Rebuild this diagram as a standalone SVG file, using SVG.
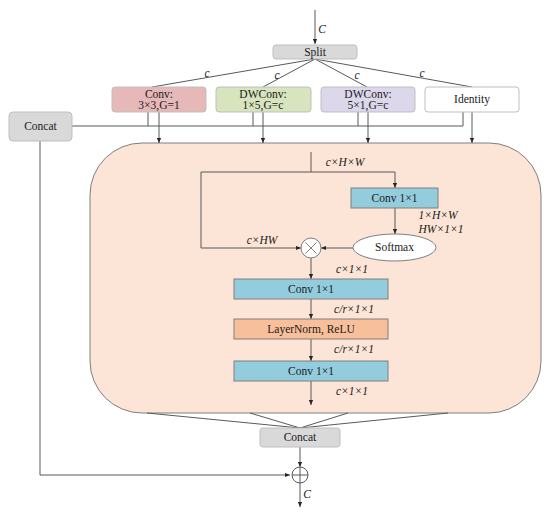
<svg xmlns="http://www.w3.org/2000/svg" width="550" height="513" viewBox="0 0 550 513" font-family="'Liberation Serif', 'DejaVu Serif', serif">
<style>
text{font-family:'Liberation Serif','DejaVu Serif',serif;font-size:11.5px;fill:#1a1a1a;text-anchor:middle}
.it{font-style:italic}
.ln{stroke:#595959;stroke-width:1;fill:none}
.gray{fill:#d9d9d9;stroke:#bfbfbf;stroke-width:1}
.teal{fill:#93cddd;stroke:#7f7f7f;stroke-width:1}
</style>
<defs>
<marker id="ah" viewBox="0 0 6 6" refX="6" refY="3" markerWidth="5" markerHeight="5" orient="auto"><path d="M0,0.5 L6,3 L0,5.5 Z" fill="#262626"/></marker>
</defs>
<g id="bigbox"><rect x="90" y="143" width="451" height="270" rx="52" fill="#fce5d6" stroke="#7f7f7f" stroke-width="1"/></g>
<g id="connectors">
<line class="ln" x1="315" y1="10" x2="315" y2="44" marker-end="url(#ah)"/>
<line class="ln" x1="315" y1="59" x2="152" y2="87"/>
<line class="ln" x1="315" y1="59" x2="263" y2="87"/>
<line class="ln" x1="315" y1="59" x2="367" y2="87"/>
<line class="ln" x1="315" y1="59" x2="472" y2="87"/>
<polyline class="ln" points="72,126 463,126"/>
<line class="ln" x1="148" y1="112" x2="148" y2="126"/>
<line class="ln" x1="253" y1="112" x2="253" y2="126"/>
<line class="ln" x1="358" y1="112" x2="358" y2="126"/>
<line class="ln" x1="463" y1="112" x2="463" y2="126"/>
<line class="ln" x1="159" y1="112" x2="159" y2="143" marker-end="url(#ah)"/>
<line class="ln" x1="263" y1="112" x2="263" y2="143" marker-end="url(#ah)"/>
<line class="ln" x1="368" y1="112" x2="368" y2="143" marker-end="url(#ah)"/>
<line class="ln" x1="472" y1="112" x2="472" y2="143" marker-end="url(#ah)"/>
<polyline class="ln" points="40,141 40,475 290,475" marker-end="url(#ah)"/>
<line class="ln" x1="311" y1="152" x2="311" y2="172"/>
<polyline class="ln" points="201,172 395,172 395,188" marker-end="url(#ah)"/>
<polyline class="ln" points="201,172 201,248 301,248" marker-end="url(#ah)"/>
<line class="ln" x1="395" y1="208" x2="395" y2="234" marker-end="url(#ah)"/>
<line class="ln" x1="353" y1="248" x2="321" y2="248" marker-end="url(#ah)"/>
<line class="ln" x1="311" y1="258" x2="311" y2="279" marker-end="url(#ah)"/>
<line class="ln" x1="311" y1="299" x2="311" y2="319" marker-end="url(#ah)"/>
<line class="ln" x1="311" y1="339" x2="311" y2="361" marker-end="url(#ah)"/>
<line class="ln" x1="311" y1="381" x2="311" y2="405" marker-end="url(#ah)"/>
<line class="ln" x1="147" y1="413" x2="300" y2="428"/>
<line class="ln" x1="250" y1="413" x2="300" y2="428"/>
<line class="ln" x1="348" y1="413" x2="300" y2="428"/>
<line class="ln" x1="448" y1="413" x2="300" y2="428"/>
<line class="ln" x1="300" y1="447" x2="300" y2="467" marker-end="url(#ah)"/>
<line class="ln" x1="300" y1="483" x2="300" y2="507" marker-end="url(#ah)"/>
</g>
<g id="labels">
<text class="it" x="322" y="33" font-size="12">C</text>
<text class="it" x="207" y="77">c</text>
<text class="it" x="277" y="79">c</text>
<text class="it" x="357" y="79">c</text>
<text class="it" x="422" y="77">c</text>
<text class="it" x="345" y="166" font-size="10.5">c×H×W</text>
<text class="it" x="262" y="244" font-size="10.5">c×HW</text>
<text class="it" x="438" y="219" font-size="10.5">1×H×W</text>
<text class="it" x="441" y="233" font-size="10.5">HW×1×1</text>
<text class="it" x="352" y="273" font-size="10.5">c×1×1</text>
<text class="it" x="354" y="313" font-size="10.5">c/r×1×1</text>
<text class="it" x="354" y="353" font-size="10.5">c/r×1×1</text>
<text class="it" x="352" y="395" font-size="10.5">c×1×1</text>
<text class="it" x="307" y="498" font-size="12">C</text>
</g>
<g id="split"><rect class="gray" x="273" y="45" width="84" height="14" rx="3"/><text x="315" y="56">Split</text></g>
<g id="conv33"><rect x="112" y="87" width="94" height="25" rx="3" fill="#e6b9b8" stroke="#bfbfbf"/><text x="159" y="98">Conv:</text><text x="159" y="109">3×3,G=1</text></g>
<g id="dw15"><rect x="216" y="87" width="95" height="25" rx="3" fill="#d7e4bd" stroke="#bfbfbf"/><text x="263" y="98">DWConv:</text><text x="263" y="109">1×5,G=c</text></g>
<g id="dw51"><rect x="321" y="87" width="94" height="25" rx="3" fill="#dcd7ea" stroke="#bfbfbf"/><text x="368" y="98">DWConv:</text><text x="368" y="109">5×1,G=c</text></g>
<g id="identity"><rect x="425" y="87" width="94" height="25" rx="3" fill="#ffffff" stroke="#bfbfbf"/><text x="472" y="103">Identity</text></g>
<g id="concat1"><rect class="gray" x="9" y="112" width="63" height="29" rx="4"/><text x="40.5" y="130">Concat</text></g>
<g id="conv1"><rect class="teal" x="351" y="188" width="87" height="20"/><text x="394.5" y="202">Conv 1×1</text></g>
<g id="softmax"><ellipse cx="394.5" cy="247.5" rx="41.5" ry="13.5" fill="#ffffff" stroke="#7f7f7f"/><text x="394.5" y="251">Softmax</text></g>
<g id="mult"><circle cx="311" cy="248" r="10" fill="#ffffff" stroke="#7f7f7f"/><path d="M305.5,242.5 L316.5,253.5 M316.5,242.5 L305.5,253.5" stroke="#7f7f7f" stroke-width="1"/></g>
<g id="conv2"><rect class="teal" x="234" y="279" width="154" height="20"/><text x="311" y="293">Conv 1×1</text></g>
<g id="ln"><rect x="234" y="319" width="154" height="20" fill="#f7c09a" stroke="#7f7f7f"/><text x="311" y="333">LayerNorm, ReLU</text></g>
<g id="conv3"><rect class="teal" x="234" y="361" width="154" height="20"/><text x="311" y="375">Conv 1×1</text></g>
<g id="concat2"><rect class="gray" x="260" y="428" width="80" height="19" rx="3"/><text x="300" y="441">Concat</text></g>
<g id="add"><circle cx="300" cy="475" r="8" fill="#ffffff" stroke="#595959"/><path d="M292,475 H308 M300,467 V483" stroke="#595959" stroke-width="1"/></g>
</svg>
